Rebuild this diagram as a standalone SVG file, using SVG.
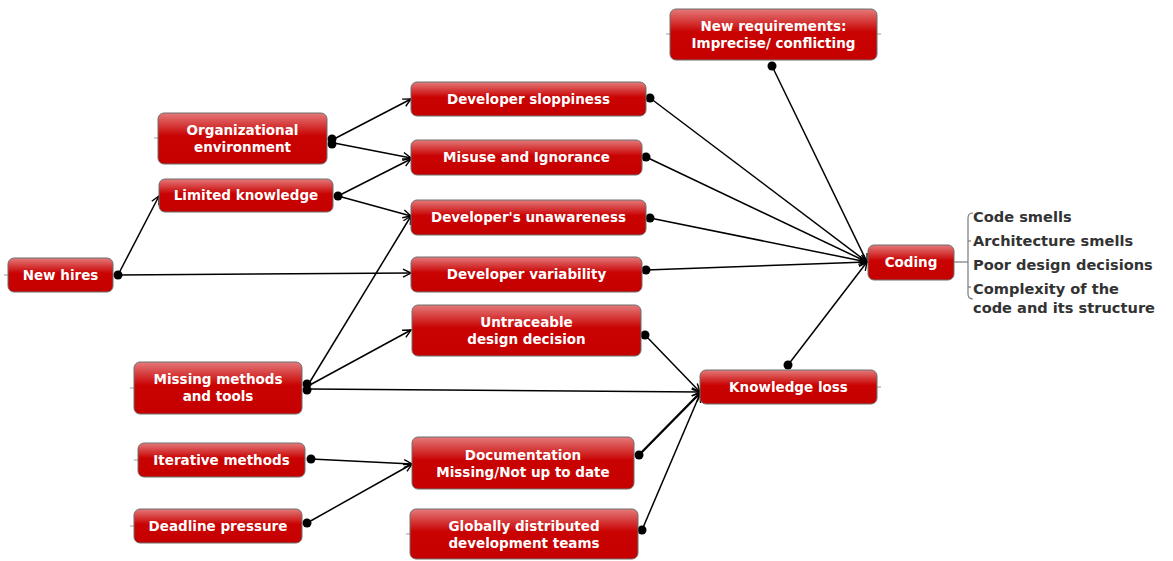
<svg xmlns="http://www.w3.org/2000/svg" width="1173" height="561" viewBox="0 0 1173 561">
  <defs>
    <linearGradient id="nodeFill" x1="0" y1="0" x2="0" y2="1">
      <stop offset="0" stop-color="#e47a7a"/>
      <stop offset="0.45" stop-color="#c90202"/>
      <stop offset="1" stop-color="#c60000"/>
    </linearGradient>
    <marker id="arrow" markerWidth="12" markerHeight="12" refX="9" refY="5" orient="auto" markerUnits="userSpaceOnUse">
      <path d="M1,1 L9,5 L1,9" fill="none" stroke="#000" stroke-width="1.4"/>
    </marker>
  </defs>
  <style>
    .node rect { fill: url(#nodeFill); stroke: #6e6e6e; stroke-width: 1; }
    .node text { font-family: "DejaVu Sans", Verdana, sans-serif; font-weight: bold; font-size: 13.5px; fill: #ffffff; text-anchor: middle; }
    .stub { stroke: #9a9a9a; stroke-width: 1; }
    .edge { fill: none; stroke: #000; stroke-width: 1.5; marker-end: url(#arrow); }
    .edge.double { stroke-width: 2.4; }
    .dot { fill: #000; }
    .item { font-family: "DejaVu Sans", Verdana, sans-serif; font-weight: bold; font-size: 14.6px; fill: #333333; }
    .brace { fill: none; stroke: #7a7a7a; stroke-width: 1.2; }
  </style>
  <rect width="1173" height="561" fill="#ffffff"/>

  <!-- small anchor stubs on the sides of topic boxes -->
  <g id="stubs">
    <line class="stub" x1="4" y1="275" x2="8" y2="275"/>
    <line class="stub" x1="154" y1="138" x2="158" y2="138"/>
    <line class="stub" x1="130" y1="388" x2="134" y2="388"/>
    <line class="stub" x1="134" y1="460" x2="138" y2="460"/>
    <line class="stub" x1="130" y1="526" x2="134" y2="526"/>
    <line class="stub" x1="406" y1="534" x2="410" y2="534"/>
    <line class="stub" x1="666" y1="34" x2="670" y2="34"/>
    <line class="stub" x1="877" y1="34" x2="881" y2="34"/>
    <line class="stub" x1="877" y1="387" x2="881" y2="387"/>
  </g>

  <!-- connectors: dot at the cause, open arrowhead at the effect -->
  <g id="connectors">
    <path class="edge" d="M118,275 L159,196"/>
    <path class="edge" d="M118,275 L411,273"/>
    <path class="edge" d="M334,139 L411,99"/>
    <path class="edge" d="M334,143 L411,158"/>
    <path class="edge" d="M338,196 L411,159"/>
    <path class="edge" d="M338,196 L411,216"/>
    <path class="edge" d="M308,385 L411,216"/>
    <path class="edge" d="M308,386 L411,330"/>
    <path class="edge" d="M308,389 L700,392"/>
    <path class="edge" d="M311,459 L412,464"/>
    <path class="edge" d="M307,523 L412,464"/>
    <path class="edge" d="M650,98 L867,262"/>
    <path class="edge" d="M646,157 L867,262"/>
    <path class="edge" d="M650,218 L867,262"/>
    <path class="edge" d="M646,270 L867,262"/>
    <path class="edge" d="M772,66 L867,262"/>
    <path class="edge" d="M788,365 L867,262"/>
    <path class="edge" d="M645,335 L700,392"/>
    <path class="edge double" d="M639,455 L700,393"/>
    <path class="edge" d="M642,530 L700,394"/>

    <circle class="dot" cx="118" cy="275" r="4.5"/>
    <circle class="dot" cx="332" cy="139" r="4.5"/>
    <circle class="dot" cx="332" cy="144" r="4.5"/>
    <circle class="dot" cx="338" cy="196" r="4.5"/>
    <circle class="dot" cx="307" cy="384" r="4.5"/>
    <circle class="dot" cx="307" cy="390" r="4.5"/>
    <circle class="dot" cx="311" cy="459" r="4.5"/>
    <circle class="dot" cx="307" cy="523" r="4.5"/>
    <circle class="dot" cx="650" cy="98" r="4.5"/>
    <circle class="dot" cx="646" cy="157" r="4.5"/>
    <circle class="dot" cx="650" cy="218" r="4.5"/>
    <circle class="dot" cx="646" cy="270" r="4.5"/>
    <circle class="dot" cx="772" cy="66" r="4.5"/>
    <circle class="dot" cx="788" cy="365" r="4.5"/>
    <circle class="dot" cx="645" cy="335" r="4.5"/>
    <circle class="dot" cx="639" cy="455" r="4.5"/>
    <circle class="dot" cx="642" cy="530" r="4.5"/>
  </g>

  <!-- topic boxes -->
  <g id="new-hires" class="node">
    <rect x="8" y="258" width="105" height="34" rx="6"/>
    <text x="60.5" y="280">New hires</text>
  </g>
  <g id="organizational-environment" class="node">
    <rect x="158" y="113" width="169" height="51" rx="6"/>
    <text x="242.5" y="135">Organizational</text>
    <text x="242.5" y="152">environment</text>
  </g>
  <g id="limited-knowledge" class="node">
    <rect x="159" y="179" width="174" height="33" rx="6"/>
    <text x="246" y="200">Limited knowledge</text>
  </g>
  <g id="developer-sloppiness" class="node">
    <rect x="411" y="82" width="235" height="34" rx="6"/>
    <text x="528.5" y="104">Developer sloppiness</text>
  </g>
  <g id="misuse-and-ignorance" class="node">
    <rect x="411" y="140" width="231" height="35" rx="6"/>
    <text x="526.5" y="162">Misuse and Ignorance</text>
  </g>
  <g id="developers-unawareness" class="node">
    <rect x="411" y="200" width="235" height="35" rx="6"/>
    <text x="528.5" y="222">Developer's unawareness</text>
  </g>
  <g id="developer-variability" class="node">
    <rect x="411" y="257" width="231" height="35" rx="6"/>
    <text x="526.5" y="279">Developer variability</text>
  </g>
  <g id="untraceable-design-decision" class="node">
    <rect x="412" y="305" width="229" height="51" rx="6"/>
    <text x="526.5" y="327">Untraceable</text>
    <text x="526.5" y="344">design decision</text>
  </g>
  <g id="missing-methods-and-tools" class="node">
    <rect x="134" y="362" width="168" height="52" rx="6"/>
    <text x="218" y="384">Missing methods</text>
    <text x="218" y="401">and tools</text>
  </g>
  <g id="iterative-methods" class="node">
    <rect x="138" y="443" width="167" height="34" rx="6"/>
    <text x="221.5" y="465">Iterative methods</text>
  </g>
  <g id="deadline-pressure" class="node">
    <rect x="134" y="509" width="168" height="34" rx="6"/>
    <text x="218" y="531">Deadline pressure</text>
  </g>
  <g id="documentation" class="node">
    <rect x="412" y="437" width="222" height="52" rx="6"/>
    <text x="523" y="460">Documentation</text>
    <text x="523" y="477">Missing/Not up to date</text>
  </g>
  <g id="globally-distributed-teams" class="node">
    <rect x="410" y="509" width="228" height="50" rx="6"/>
    <text x="524" y="531">Globally distributed</text>
    <text x="524" y="548">development teams</text>
  </g>
  <g id="knowledge-loss" class="node">
    <rect x="700" y="370" width="177" height="34" rx="6"/>
    <text x="788.5" y="392">Knowledge loss</text>
  </g>
  <g id="new-requirements" class="node">
    <rect x="670" y="9" width="207" height="51" rx="6"/>
    <text x="773.5" y="31">New requirements:</text>
    <text x="773.5" y="48">Imprecise/ conflicting</text>
  </g>
  <g id="coding" class="node">
    <rect x="868" y="245" width="86" height="35" rx="6"/>
    <text x="911" y="267">Coding</text>
  </g>

  <!-- outcomes of coding, grouped by a brace -->
  <g id="coding-outcomes">
    <line class="brace" x1="954" y1="262" x2="968" y2="262"/>
    <path class="brace" d="M973,213 Q968,213 968,218 L968,294 Q968,299 973,299"/>
    <line class="brace" x1="968" y1="241" x2="971" y2="241"/>
    <line class="brace" x1="968" y1="287" x2="971" y2="287"/>
    <text class="item" x="973" y="222">Code smells</text>
    <text class="item" x="973" y="246">Architecture smells</text>
    <text class="item" x="973" y="270">Poor design decisions</text>
    <text class="item" x="973" y="294">Complexity of the</text>
    <text class="item" x="973" y="313">code and its structure</text>
  </g>
</svg>
